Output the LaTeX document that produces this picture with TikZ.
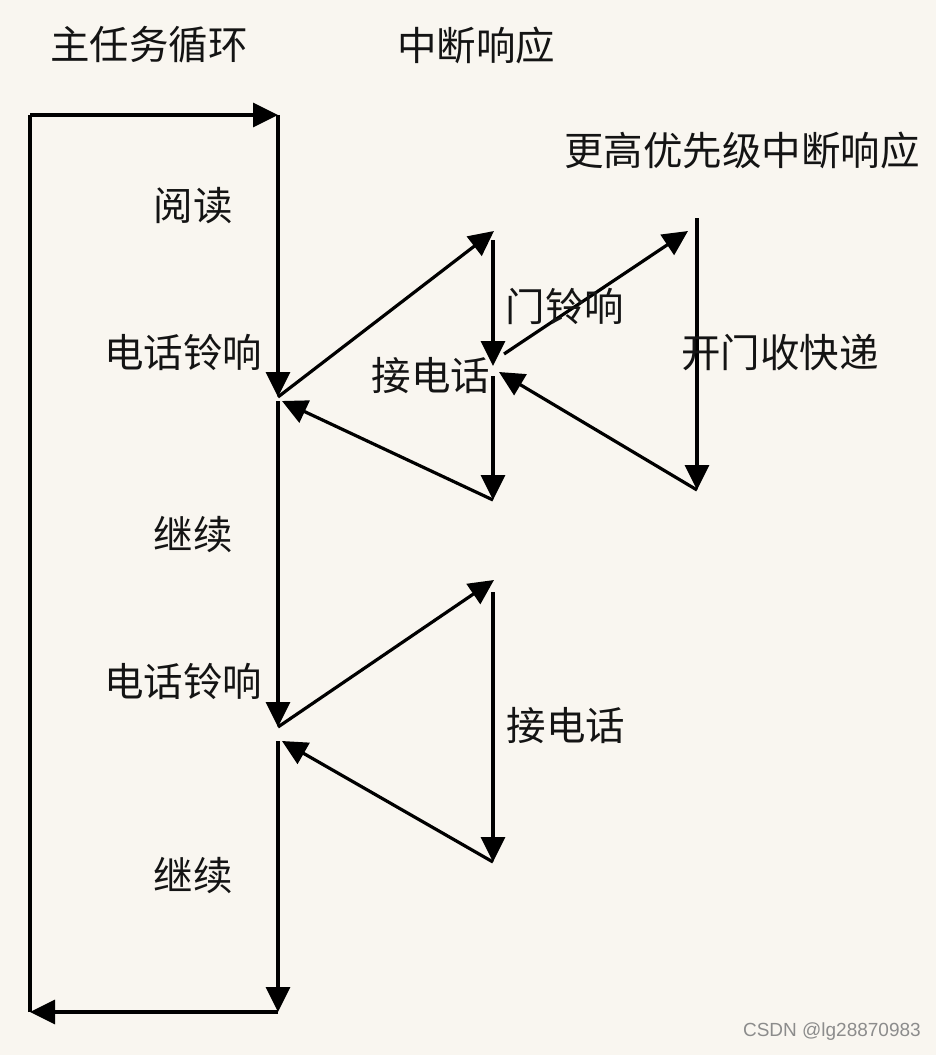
\documentclass[tikz,border=0pt]{standalone}
\usepackage{fontspec}
\newfontfamily\cjk{Noto Sans CJK SC}
\newfontfamily\wmfont{Liberation Sans}
\usepackage{tikz}
\usetikzlibrary{arrows.meta, positioning, calc}
\definecolor{paper}{RGB}{249,246,240}
\definecolor{ink}{RGB}{20,20,20}
\definecolor{wmgray}{RGB}{140,140,140}
\tikzset{
    flow/.style={line width=3.2pt, draw=black, -{Triangle[length=25pt,width=24pt]}},
    plain/.style={line width=3.2pt, draw=black},
    label/.style={font=\cjk\fontsize{39.5}{42}\selectfont, text=ink, inner sep=0pt}
}

\begin{document}
\begin{tikzpicture}[x=1pt, y=-1pt]
    \fill[paper] (0,0) rectangle (936,1055);
    \useasboundingbox (0,0) rectangle (936,1055);

    % Main loop
    \coordinate (loopTL) at (30,115);
    \coordinate (loopTR) at (278,115);
    \coordinate (loopBL) at (30,1012);
    \coordinate (loopBR) at (278,1012);
    \coordinate (ring1) at (278,397);
    \coordinate (resume1) at (282,401);
    \coordinate (cont1) at (278,401);
    \coordinate (ring2) at (278,727);
    \coordinate (resume2) at (282,741);
    \coordinate (cont2) at (278,741);

    % First phone call
    \coordinate (callTop) at (494,231);
    \coordinate (callStart) at (493,240);
    \coordinate (callBell) at (493,366);
    \coordinate (callBack) at (499,372);
    \coordinate (callGo) at (493,376);
    \coordinate (callEnd) at (493,500);

    % Door bell
    \coordinate (bellOut) at (504,354);
    \coordinate (bellTop) at (688,231);
    \coordinate (bellStart) at (697,218);
    \coordinate (bellEnd) at (697,490);

    % Second phone call
    \coordinate (call2Top) at (494,580);
    \coordinate (call2Start) at (493,592);
    \coordinate (call2End) at (493,862);

    \draw[plain] (loopBL) -- (loopTL);
    \draw[flow] (loopTL) -- (loopTR);
    \draw[flow] (loopTR) -- (ring1);
    \draw[flow] (cont1) -- (ring2);
    \draw[flow] (cont2) -- (loopBR);
    \draw[flow] (loopBR) -- (loopBL);

    \draw[flow] (ring1) -- (callTop);
    \draw[flow] (callStart) -- (callBell);
    \draw[flow] (bellOut) -- (bellTop);
    \draw[flow] (bellStart) -- (bellEnd);
    \draw[flow] (bellEnd) -- (callBack);
    \draw[flow] (callGo) -- (callEnd);
    \draw[flow] (callEnd) -- (resume1);

    \draw[flow] (ring2) -- (call2Top);
    \draw[flow] (call2Start) -- (call2End);
    \draw[flow] (call2End) -- (resume2);

    % Labels
    \node[label] (mainTitle) at (149,45) {主任务循环};
    \node[label] (irqTitle) at (476,45) {中断响应};
    \node[label] (hiTitle) at (742,150) {更高优先级中断响应};
    \node[label] (read) at (193,206) {阅读};
    \node[label] (phone1) at (183,352) {电话铃响};
    \node[label] (answer1) at (431,376) {接电话};
    \node[label] (bell) at (565,306) {门铃响};
    \node[label] (parcel) at (780,353) {开门收快递};
    \node[label] (goOn1) at (193,535) {继续};
    \node[label] (phone2) at (183,681) {电话铃响};
    \node[label] (answer2) at (566,726) {接电话};
    \node[label] (goOn2) at (193,875) {继续};

    \node[font=\wmfont\fontsize{19}{21}\selectfont, text=wmgray, anchor=east, inner sep=0pt] (mark) at (921,1032) {CSDN @lg28870983};
\end{tikzpicture}
\end{document}
